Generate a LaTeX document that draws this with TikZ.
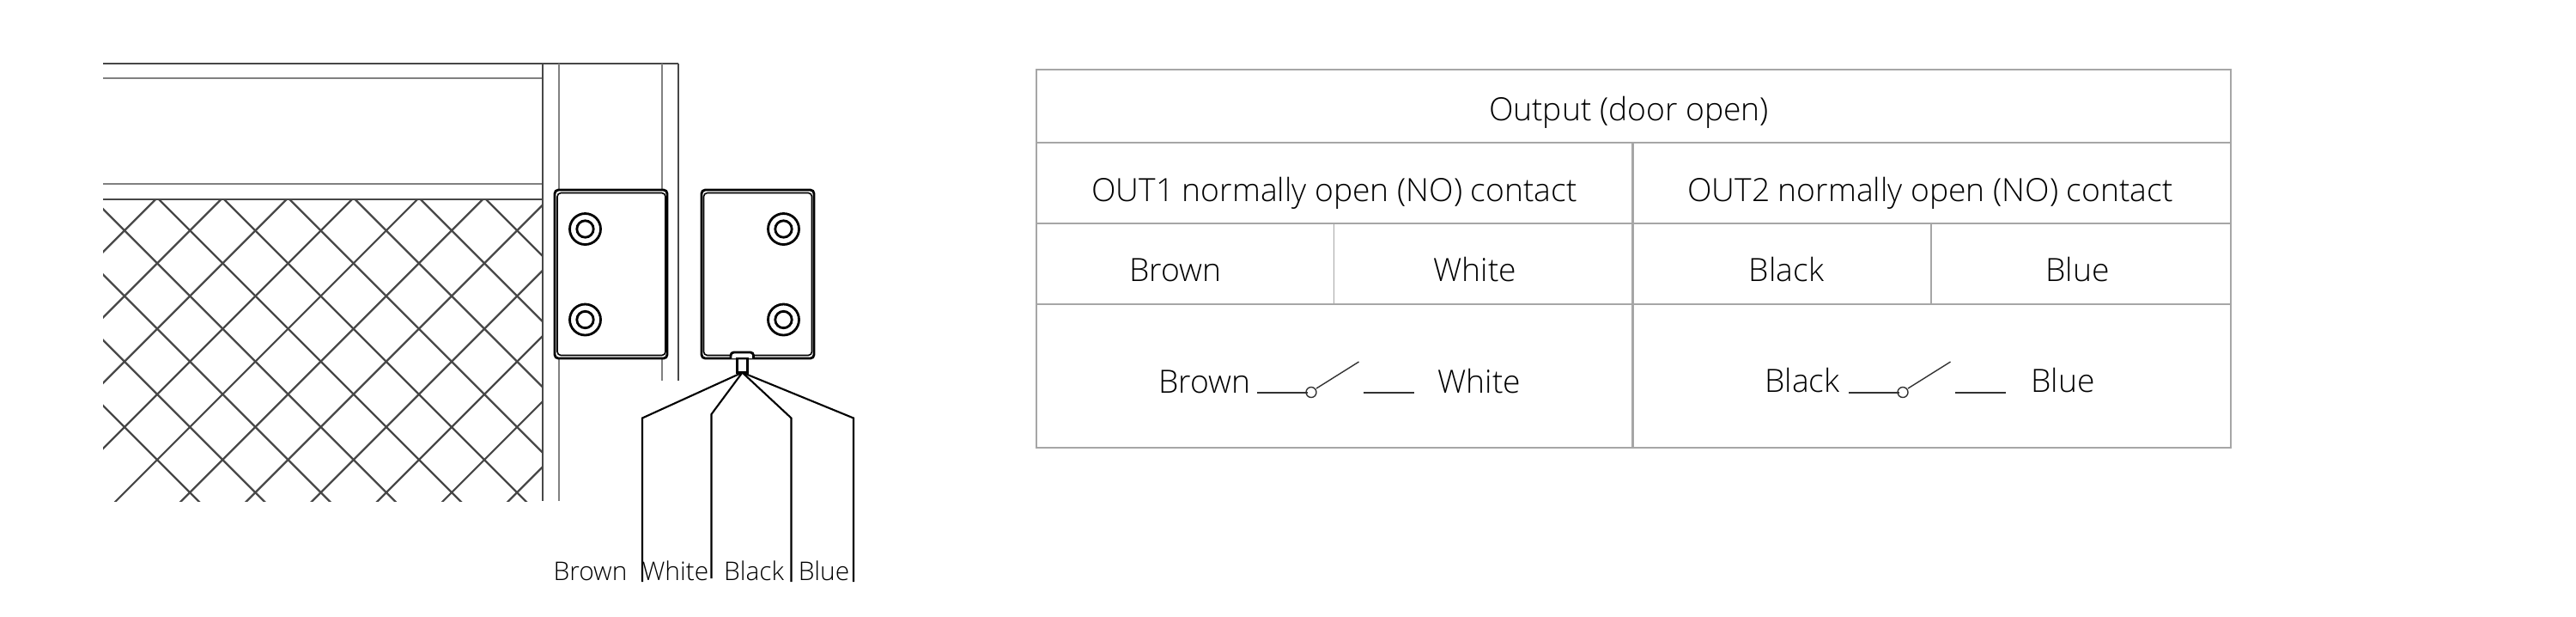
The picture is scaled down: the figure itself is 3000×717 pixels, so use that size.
\documentclass[tikz,border=0pt]{standalone}
\usepackage{fontspec}
\setmainfont{Open Sans}[UprightFont=* Light]
\tikzset{
    frameline/.style={color=black!72, line width=.8pt},
    thinline/.style={color=black!50, line width=.55pt},
    meshline/.style={color=black!72, line width=.65pt},
    partline/.style={color=black, line width=.8pt},
    wireline/.style={color=black, line width=.6pt},
    gridline/.style={color=black!35, line width=.6pt},
    swline/.style={color=black!80, line width=.4pt},
    tablabel/.style={anchor=base, inner sep=0pt, font=\fontsize{10.6pt}{13pt}\selectfont},
    wirelabel/.style={anchor=base, inner sep=0pt, font=\fontsize{8.5pt}{10pt}\selectfont},
}
\begin{document}
\begin{tikzpicture}[x=0.1mm, y=-0.1mm]
    \useasboundingbox (0, 0) rectangle (3000, 717);

    % wire mesh
    \begin{scope}
        \clip (120, 232) rectangle (632, 583);
        \foreach \k in {-3, ..., 16}
        {
            \draw [meshline] (\k*76.2+413.3-600, 600) -- (\k*76.2+413.3, 0);
            \draw [meshline] (\k*76.2-123.3, 0) -- (\k*76.2-123.3+600, 600);
        }
    \end{scope}

    % frame
    \draw [frameline] (120, 74) -- (790, 74);
    \draw [thinline] (120, 91) -- (632, 91);
    \draw [thinline] (120, 214) -- (632, 214);
    \draw [frameline] (120, 232) -- (632, 232);
    \draw [frameline] (632, 74) -- (632, 583);
    \draw [thinline] (651, 74) -- (651, 583);
    \draw [thinline] (771, 74) -- (771, 443);
    \draw [frameline] (790, 74) -- (790, 443);

    % sensor, fixed part
    \filldraw [partline, fill=white, rounded corners=1.2pt] (646, 221) rectangle (777, 417);
    \draw [partline, line width=.45pt, rounded corners=1.2pt] (649, 224.5) rectangle (775, 413.5);
    \foreach \y in {266.5, 372}
    {
        \draw [partline] (681.5, \y) circle (18);
        \draw [partline] (681.5, \y) circle (9.7);
    }

    % sensor, moving part
    \filldraw [partline, fill=white, rounded corners=1.2pt] (817, 221) rectangle (948, 417);
    \draw [partline, line width=.45pt, rounded corners=1.2pt] (819.5, 224.5) rectangle (945.5, 413.5);
    \foreach \y in {266.5, 372}
    {
        \draw [partline] (912.5, \y) circle (18);
        \draw [partline] (912.5, \y) circle (9.7);
    }
    \filldraw [partline, fill=white, rounded corners=1pt] (851, 417) -- (851, 410) -- (877.5, 410) -- (877.5, 417);
    \draw [partline] (858.5, 417) rectangle (870.5, 433.5);

    % wires
    \coordinate (fan) at (864.5, 433.5);
    \draw [wireline] (fan) -- (748, 486.5) -- (748, 677);
    \draw [wireline] (fan) -- (828.5, 482) -- (828.5, 673);
    \draw [wireline] (fan) -- (921.5, 486.5) -- (921.5, 677);
    \draw [wireline] (fan) -- (994, 486.5) -- (994, 677);

    \node (wirebrown) at (687.5, 675) [wirelabel] {Brown};
    \node (wirewhite) at (786.5, 675) [wirelabel] {White};
    \node (wireblack) at (878, 675) [wirelabel] {Black};
    \node (wireblue) at (959.5, 675) [wirelabel] {Blue};

    % table
    \draw [gridline] (1207, 81) rectangle (2598, 521);
    \draw [gridline] (1207, 166) -- (2598, 166);
    \draw [gridline] (1207, 260) -- (2598, 260);
    \draw [gridline] (1207, 354) -- (2598, 354);
    \draw [gridline] (1901.5, 166) -- (1901.5, 521);
    \draw [gridline, line width=.5pt] (1553.5, 260) -- (1553.5, 354);
    \draw [gridline, line width=.5pt] (2249, 260) -- (2249, 354);

    \node (output) at (1897, 140) [tablabel] {Output (door open)};
    \node (outone) at (1554, 234) [tablabel] {OUT1 normally open (NO) contact};
    \node (outtwo) at (2248, 234) [tablabel] {OUT2 normally open (NO) contact};
    \node (brown) at (1369, 327.5) [tablabel] {Brown};
    \node (white) at (1718, 327.5) [tablabel] {White};
    \node (black) at (2080.5, 327.5) [tablabel] {Black};
    \node (blue) at (2419.5, 327.5) [tablabel] {Blue};

    % switches
    \node (cellbrown) at (1403, 457) [tablabel] {Brown};
    \node (cellwhite) at (1723, 457) [tablabel] {White};
    \node (cellblack) at (2099, 456.5) [tablabel] {Black};
    \node (cellblue) at (2402.5, 456.5) [tablabel] {Blue};

    \foreach \x in {0, 689}
    {
        \draw [swline] (1464+\x, 457) -- (1523+\x, 457);
        \draw [swline] (1529+\x-2, 456.5) circle (6);
        \draw [swline] (1533+\x, 452) -- (1582.5+\x, 421);
        \draw [swline] (1588+\x, 457) -- (1647+\x, 457);
    }
\end{tikzpicture}
\end{document}
